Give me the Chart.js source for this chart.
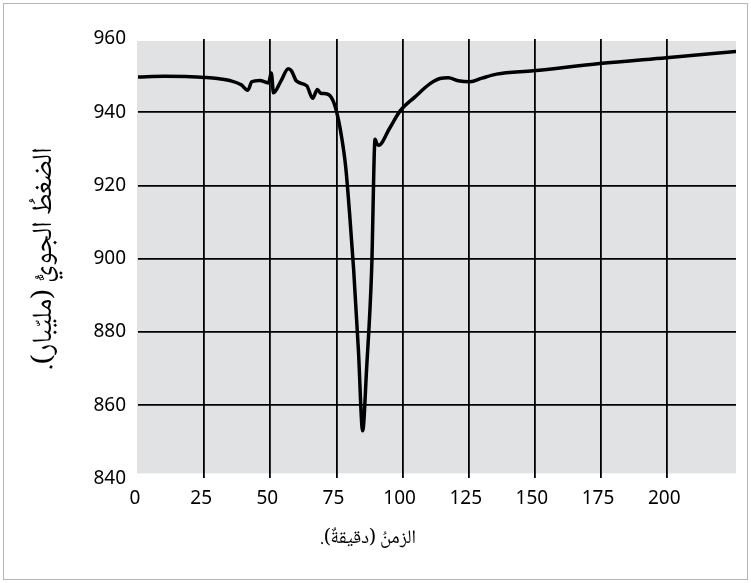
<!DOCTYPE html>
<html>
<head>
<meta charset="utf-8">
<script src="https://cdn.jsdelivr.net/npm/chart.js@4/dist/chart.umd.min.js"></script>
<style>
  html, body { margin: 0; padding: 0; background: #fff; }
  #wrap { position: relative; width: 751px; height: 583px; }
  #frame {
    position: absolute; left: 3px; top: 3px; width: 745px; height: 577px;
    box-sizing: border-box; border: 1px solid #b5b5b5; pointer-events: none;
  }
</style>
</head>
<body>
<div id="wrap">
  <canvas id="chart" width="751" height="583"></canvas>
  <div id="frame"></div>
</div>
<script>
// time in minutes and pressure in millibar
const timeMinutes = [0, 10, 20, 25, 30, 35, 39, 41.5, 43, 46, 49.3, 50.4, 51.2, 54, 56.8, 58, 59.9,
  63.8, 66, 67.8, 69, 71.5, 73.5, 75.1, 77, 78.5, 80, 81.5, 83.3, 84.9, 86.4, 88.3, 89.6, 90.3,
  91, 95, 99, 104.7, 110.4, 114.1, 117.3, 121, 125.5, 130, 135.5, 149.4, 174.5, 199.7, 226];
const pressureMb = [949.6, 949.8, 949.7, 949.5, 949.2, 948.6, 947.5, 946, 948.3, 948.7, 948, 950.7, 945.3, 948.5, 951.9, 951.3, 948.5,
  947.2, 943.8, 946.2, 945.2, 945, 943.5, 940, 933, 925, 912, 897, 875, 853, 870, 897, 932.6, 931.4,
  931, 935.5, 940.3, 944.2, 947.8, 949.2, 949.4, 948.6, 948.3, 949.3, 950.4, 951.3, 953.3, 954.9, 956.6];

const xTickValues = [0, 25, 50, 75, 100, 125, 150, 175, 200];
const yTickValues = [840, 860, 880, 900, 920, 940, 960];

// RLE ... PDF so the Arabic titles are laid out right to left on the canvas
const rtl = (s) => "\u202B" + s + "\u202C";
const xTitle = rtl("الزمنُ (دقيقةٌ).");
const yTitle = rtl("الضغطُ الجويُّ (مليّبار).");

const points = timeMinutes.map((t, i) => ({ x: t, y: pressureMb[i] }));

// gray plot background
const plotBackground = {
  id: "plotBackground",
  beforeDraw(chart) {
    const { ctx, chartArea } = chart;
    ctx.save();
    ctx.fillStyle = "#e1e2e4";
    ctx.fillRect(chartArea.left - 1, chartArea.top + 2,
      chartArea.right - chartArea.left + 1, chartArea.bottom - chartArea.top - 7);
    ctx.restore();
  },
};

const arabicFamily = "'Noto Naskh Arabic', 'Noto Sans Arabic', 'DejaVu Sans', sans-serif";
const tickFont = { family: "'Noto Sans', 'DejaVu Sans', sans-serif", size: 19 };

new Chart(document.getElementById("chart"), {
  type: "line",
  data: {
    datasets: [
      {
        data: points,
        borderColor: "#000",
        borderWidth: 3.5,
        pointRadius: 0,
        cubicInterpolationMode: "monotone",
        fill: false,
      },
    ],
  },
  options: {
    responsive: false,
    animation: false,
    layout: { padding: { top: 39, right: 15, bottom: 31, left: 0 } },
    plugins: {
      legend: { display: false },
      tooltip: { enabled: false },
      title: {
        display: true,
        position: "bottom",
        text: xTitle,
        color: "#000",
        font: { family: arabicFamily, size: 19, weight: "normal" },
        padding: { top: 10, bottom: 0 },
      },
    },
    scales: {
      x: {
        type: "linear",
        min: 0,
        max: 226,
        afterBuildTicks: (scale) => {
          scale.ticks = xTickValues.map((v) => ({ value: v }));
        },
        ticks: { color: "#000", font: tickFont, padding: 9, labelOffset: -3 },
        grid: {
          drawTicks: false,
          lineWidth: 1.8,
          color: (c) => (c.tick && c.tick.value === 0 ? "rgba(0,0,0,0)" : "#000"),
        },
        border: { display: false },
      },
      y: {
        min: 840,
        max: 960,
        afterBuildTicks: (scale) => {
          scale.ticks = yTickValues.map((v) => ({ value: v }));
        },
        afterFit: (scale) => {
          scale.width = 138;
        },
        ticks: { color: "#000", font: tickFont, padding: 12 },
        grid: {
          drawTicks: false,
          lineWidth: 1.8,
          color: (c) =>
            c.tick && (c.tick.value === 840 || c.tick.value === 960) ? "rgba(0,0,0,0)" : "#000",
        },
        border: { display: false },
        title: {
          display: true,
          text: yTitle,
          color: "#000",
          font: { family: arabicFamily, size: 28 },
          padding: { top: 31, bottom: 0 },
        },
      },
    },
  },
  plugins: [plotBackground],
});
</script>
</body>
</html>
